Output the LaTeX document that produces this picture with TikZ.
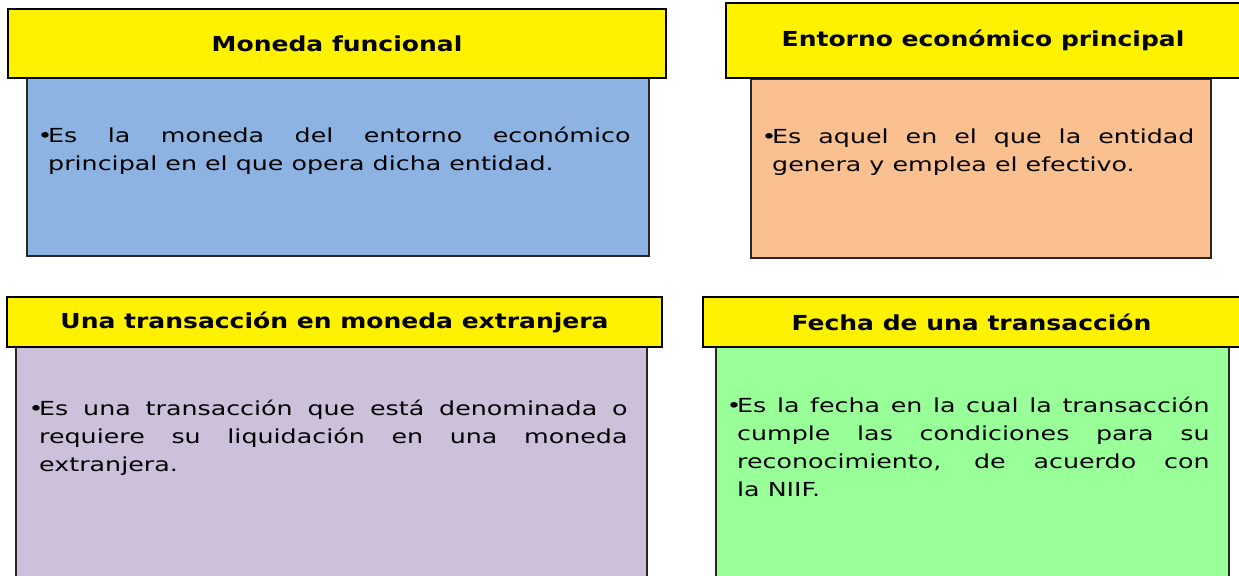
\documentclass[tikz,border=0pt]{standalone}
\usepackage{fontspec}
\setmainfont{DejaVu Sans}[FakeStretch=1.31]
\newfontfamily\titulofont{DejaVu Sans}[FakeStretch=1.21]
\usetikzlibrary{calc}

\definecolor{azul}{RGB}{141,179,226}
\definecolor{naranja}{RGB}{250,192,144}
\definecolor{lila}{RGB}{204,192,218}
\definecolor{verde}{RGB}{153,255,153}

\hyphenpenalty=10000
\exhyphenpenalty=10000
\newcommand{\vineta}{\leavevmode\hangindent=8pt\hangafter=1\makebox[8pt][l]{•}}

\begin{document}
\begin{tikzpicture}[x=.75pt, y=-.75pt,
  titulo/.style={draw=black, line width=1.1pt, fill=yellow, inner sep=0pt,
    font=\titulofont\bfseries\fontsize{15.5}{18}\selectfont},
  cuerpo/.style={draw=black!85, line width=1.1pt, inner sep=0pt},
  texto/.style={anchor=base west, inner sep=0pt, align=justify,
    font=\fontsize{14.5}{21}\selectfont}]
\clip (0,0) rectangle (1239,575);

% cuerpos
\node[cuerpo, fill=azul, minimum width=466.5pt, minimum height=133.5pt] (c1) at (338,167) {};
\node[cuerpo, fill=naranja, minimum width=345pt, minimum height=134.25pt] (c2) at (981,168.5) {};
\node[cuerpo, fill=lila, minimum width=473.25pt, minimum height=178.5pt] (c3) at (331.5,466) {};
\node[cuerpo, fill=verde, minimum width=384.75pt, minimum height=178.5pt] (c4) at (972.5,466) {};

% titulos
\node[titulo, minimum width=493.5pt, minimum height=51.75pt] (t1) at (337,43.5) {Moneda funcional};
\node[titulo, minimum width=385.5pt, minimum height=56.25pt] (t2) at (983,40.5) {Entorno económico principal};
\node[titulo, minimum width=491.25pt, minimum height=37.5pt] (t3) at (334.5,322) {Una transacción en moneda extranjera};
\node[titulo, minimum width=402.75pt, minimum height=37.5pt] (t4) at (971.5,322) {Fecha de una transacción};

% textos
\node[texto, text width=444.75pt] (x1) at ($(c1.north west)+(11,65)$)
  {\vineta Es la moneda del entorno económico\linebreak principal en el que opera dicha entidad.\par};
\node[texto, text width=324.75pt] (x2) at ($(c2.north west)+(11,65)$)
  {\vineta Es aquel en el que la entidad\linebreak genera y emplea el efectivo.\par};
\node[texto, text width=449.25pt] (x3) at ($(c3.north west)+(13,69)$)
  {\vineta Es una transacción que está denominada o\linebreak requiere su liquidación en una moneda\linebreak extranjera.\par};
\node[texto, text width=362.25pt] (x4) at ($(c4.north west)+(11,66)$)
  {\vineta Es la fecha en la cual la transacción\linebreak cumple las condiciones para su\linebreak reconocimiento, de acuerdo con\linebreak la NIIF.\par};

\end{tikzpicture}
\end{document}
